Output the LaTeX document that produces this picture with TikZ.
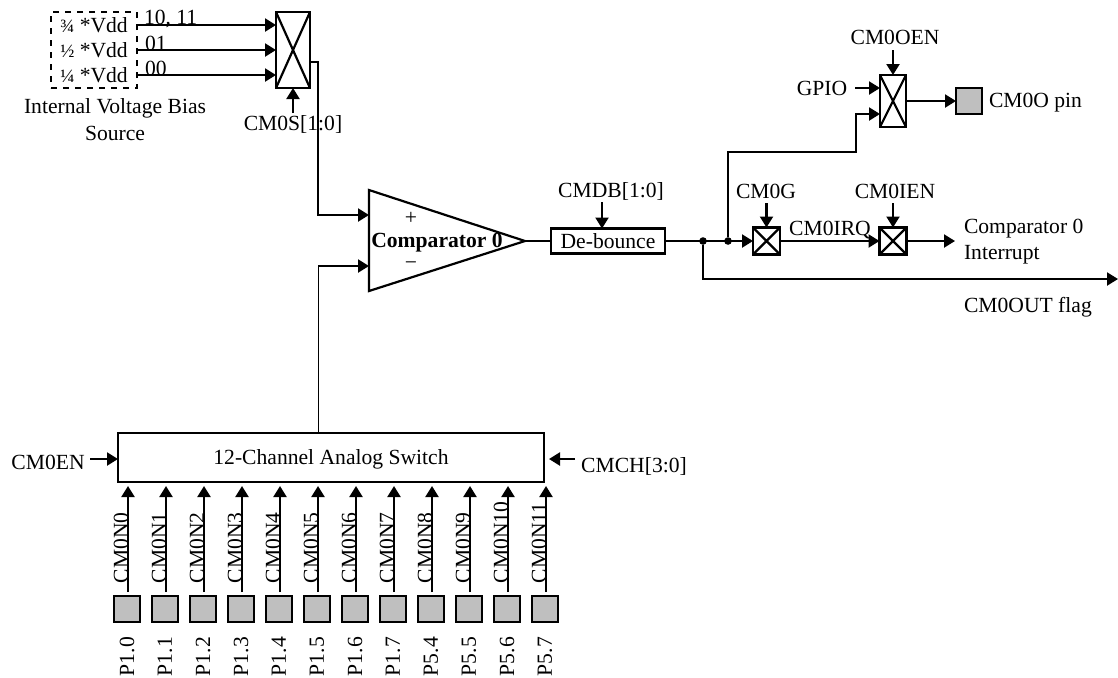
\documentclass[tikz,border=0pt]{standalone}
\usepackage{fontspec}
\setmainfont{Liberation Serif}
\usepackage{tikz}
\usetikzlibrary{arrows.meta, positioning}
\definecolor{pingray}{HTML}{BFBFBF}
\newcommand{\frc}[1]{{\fontsize{9.4}{10}\selectfont #1}}

\begin{document}
\begin{tikzpicture}[
    x=0.5pt, y=-0.5pt,
    >={Triangle[length=5.5pt,width=6.5pt]}, line width=1.1pt,
    every node/.style={font=\fontsize{10.8}{12}\selectfont, inner sep=0pt, outer sep=0pt},
    muxbox/.style={draw, fill=white, minimum width=#1, minimum height=#1,
                   path picture={\draw (path picture bounding box.north west) -- (path picture bounding box.south east)
                                       (path picture bounding box.south west) -- (path picture bounding box.north east);}},
    tallmux/.style={muxbox=13pt, minimum height=#1},
    pinbox/.style={draw, fill=pingray, minimum width=13pt, minimum height=13pt},
    box/.style={draw, fill=white, align=center},
    junction/.style={circle, fill=black, minimum size=3.8pt},
    vlabel/.style={rotate=90, anchor=west}
  ]
    \useasboundingbox (0,0) rectangle (1118,677);

    % voltage bias source
    \node[draw, dashed, minimum width=43pt, minimum height=38pt] (bias) at (94,50) {};
    \node (vh) at (94,25) {\frc{¾} *Vdd};
    \node (vm) at (94,50) {\frc{½} *Vdd};
    \node (vl) at (94,75) {\frc{¼} *Vdd};
    \node[align=center] (biastxt) at (115,120) {Internal Voltage Bias\\[1.5pt]Source};
    \node[tallmux=38pt, minimum width=17pt] (vmux) at (293,50) {};
    \coordinate (bh) at (bias.east |- vh);
    \coordinate (bm) at (bias.east |- vm);
    \coordinate (bl) at (bias.east |- vl);
    \draw[->] (bh) -- (bh -| vmux.west);
    \draw[->] (bm) -- (bm -| vmux.west);
    \draw[->] (bl) -- (bl -| vmux.west);
    \node[anchor=west] (s3) at (144,19) {10, 11};
    \node[anchor=west] (s1) at (145,43) {01};
    \node[anchor=west] (s0) at (145,68) {00};
    \node (cms) at (293,124.5) {CM0S[1:0]};
    \coordinate (cmsup) at (293,113);
    \draw[->] (cmsup) -- (vmux.south);

    % comparator
    \coordinate (cpa) at (369,215);
    \coordinate (cna) at (369,266);
    \coordinate (tip) at (525,241);
    \draw[fill=white] (369,190) -- (tip) -- (369,291) -- cycle;
    \node (plus) at (411,218) {+};
    \node (minus) at (411,266) {−};
    \node[font=\fontsize{10.8}{12}\selectfont\bfseries] (cmp) at (437,243) {Comparator 0};
    \coordinate (vout) at (318,62);
    \draw[->] (vmux.east |- vout) -- (vout) |- (cpa);

    % analog switch
    \node[box, minimum width=213pt, minimum height=24.5pt] (sw) at (331,457.5) {};
    \node (swtxt) at (331,459) {12-Channel Analog Switch};
    \node (cmen) at (48,462) {CM0EN};
    \coordinate (ena) at (90,459);
    \draw[->] (ena) -- (sw.west |- ena);
    \node (cmch) at (634,466) {CMCH[3:0]};
    \coordinate (cha) at (575,459);
    \coordinate (chb) at (549,459);
    \draw[->] (cha) -- (chb);
    \coordinate (swup) at (318,433);
    \coordinate (swbend) at (318,266);
    \draw[line width=0.5pt] (swup) -- (swbend);
    \draw[->] (swbend) -- (cna);

    \foreach \i/\lx/\pname in {0/128/P1.0,1/166/P1.1,2/204/P1.2,3/242/P1.3,4/280/P1.4,5/318/P1.5,
                               6/356/P1.6,7/394/P1.7,8/432/P5.4,9/470/P5.5,10/508/P5.6,11/546/P5.7}{
      \node[pinbox] (pad\i) at (\lx-1,609) {};
      \coordinate (top\i) at (\lx,486);
      \coordinate (bot\i) at (\lx,592);
      \draw[->] (bot\i) -- (top\i);
      \node[vlabel] (cn\i) at (\lx-7,583) {CM0N\i};
      \node[vlabel] (pn\i) at (\lx-1,676) {\pname};
    }

    % debounce and outputs
    \node[box, minimum width=57pt, minimum height=12.5pt] (deb) at (608,241) {De-bounce};
    \node (cmdb) at (611,191.5) {CMDB[1:0]};
    \coordinate (dba) at (602,202);
    \draw[->] (dba) -- (dba |- deb.north);
    \draw (tip) -- (deb.west);
    \node[junction] (ja) at (703,241) {};
    \node[junction] (jb) at (728,241) {};
    \node[muxbox=13.5pt] (gmux) at (766.5,241) {};
    \node[muxbox=13.5pt] (imux) at (893,241) {};
    \draw[->] (deb.east) -- (gmux.west);
    \draw[->] (gmux.east) -- (imux.west);
    \coordinate (iend) at (955,241);
    \draw[->] (imux.east) -- (iend);
    \node (cmg) at (766,191) {CM0G};
    \node (cmie) at (895,191) {CM0IEN};
    \node (irq) at (830,230) {CM0IRQ};
    \coordinate (ga) at (766.5,203);
    \coordinate (ia) at (893,203);
    \draw[->] (ga) -- (gmux.north);
    \draw[->] (ia) -- (imux.north);
    \node[anchor=west] (inta) at (964,229) {Comparator 0};
    \node[anchor=west] (intb) at (964,255) {Interrupt};
    \coordinate (flagend) at (1118,279);
    \draw[->] (ja) |- (flagend);
    \node[anchor=west] (flag) at (964,307) {CM0OUT flag};

    % output pin mux
    \node[tallmux=26pt] (omux) at (893,101) {};
    \node (oen) at (895,37) {CM0OEN};
    \coordinate (oa) at (893,50);
    \draw[->] (oa) -- (omux.north);
    \node (gpio) at (822,88) {GPIO};
    \coordinate (ga2) at (855,88);
    \draw[->] (ga2) -- (ga2 -| omux.west);
    \coordinate (oc) at (856,152);
    \coordinate (ob) at (856,114);
    \draw[->] (jb) |- (oc) -- (ob) -- (ob -| omux.west);
    \node[pinbox] (opin) at (969,101) {};
    \draw[->] (omux.east) -- (opin.west);
    \node[anchor=west] (opintxt) at (989,103) {CM0O pin};
  \end{tikzpicture}
\end{document}
